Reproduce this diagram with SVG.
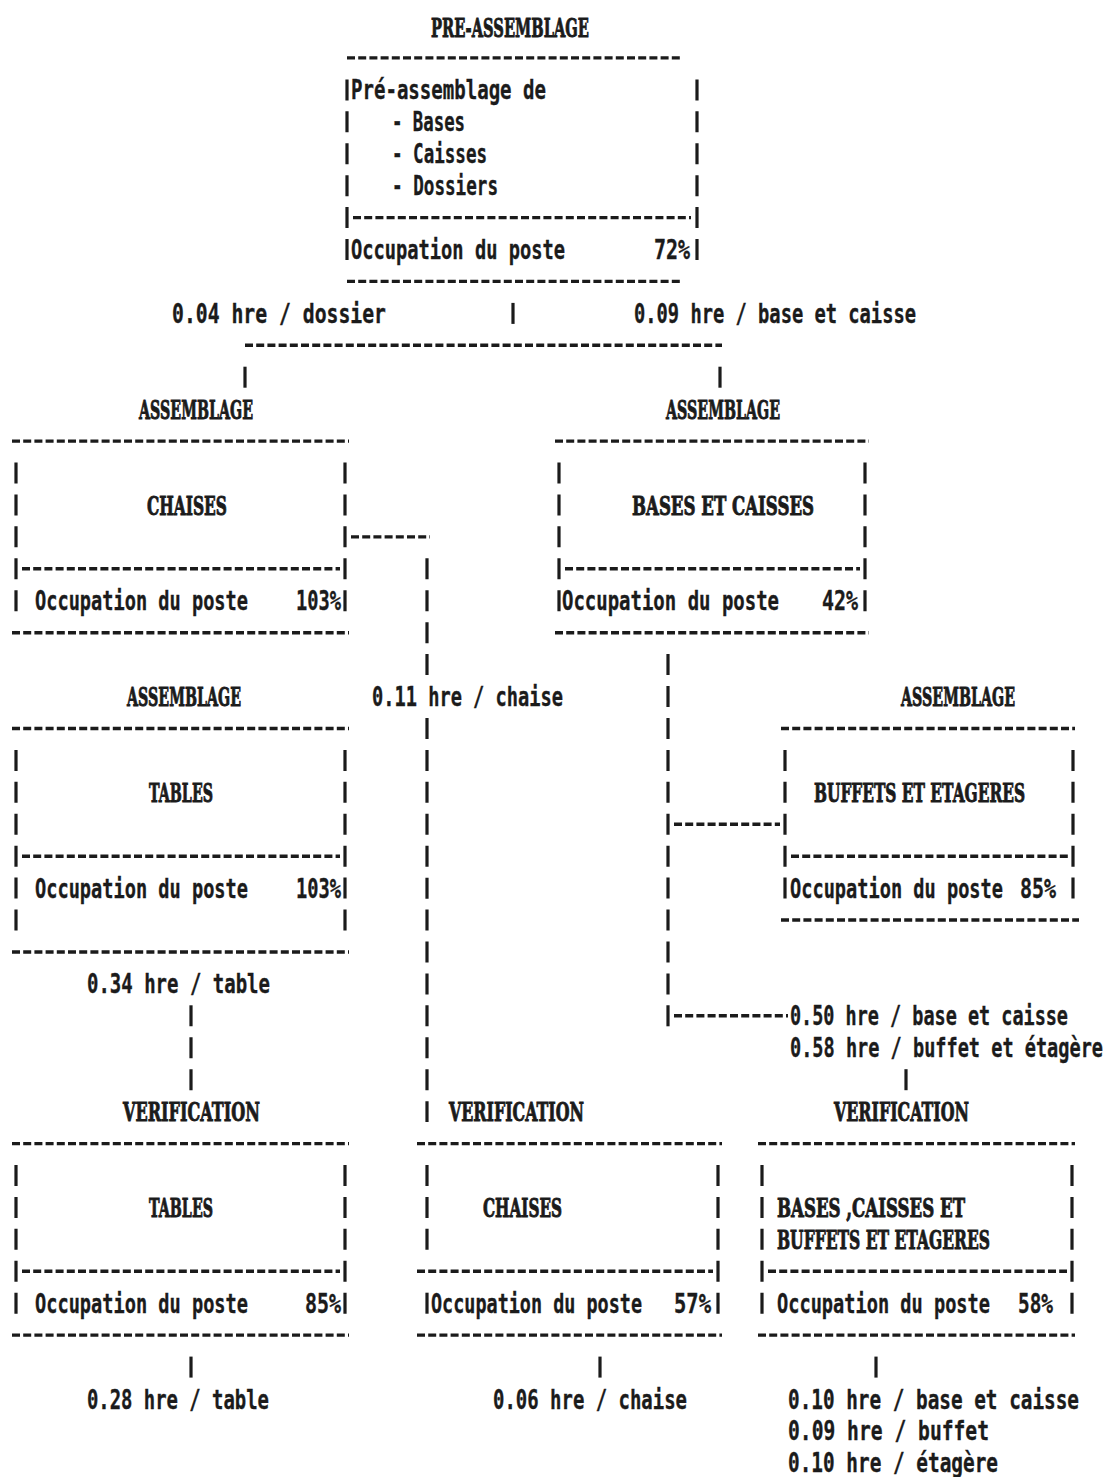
<svg xmlns="http://www.w3.org/2000/svg" width="1107" height="1477" viewBox="0 0 1107 1477" xml:space="preserve">
<style>
  .t{font-family:"DejaVu Sans Mono","Liberation Mono",monospace;font-weight:bold;font-size:18.6px;fill:#1b1b1b;stroke:#1b1b1b;stroke-width:0.25}
  .h{font-family:"DejaVu Serif","Liberation Serif",serif;font-weight:bold;font-size:15px;fill:#1b1b1b;stroke:#1b1b1b;stroke-width:0.55}
  .d{stroke:#1b1b1b;stroke-width:3.4;stroke-dasharray:8 3.2;fill:none}
  .b{stroke:#1b1b1b;stroke-width:3.2;stroke-dasharray:21 10.93;fill:none}
</style>
<rect width="1107" height="1477" fill="#fff"/>

<!-- Pre-assembly station -->
<g id="node-pre-assemblage">
  <text class="h" transform="translate(431,36.5) scale(1,1.75)" textLength="158" lengthAdjust="spacingAndGlyphs">PRE-ASSEMBLAGE</text>
  <line class="d" x1="347" y1="57.9" x2="683" y2="57.9"/>
  <line class="b" x1="347" y1="79.4" x2="347" y2="260"/>
  <line class="b" x1="697" y1="79.4" x2="697" y2="260"/>
  <text class="t" transform="translate(351,99.4) scale(1,1.4)" textLength="195" lengthAdjust="spacingAndGlyphs">Pré-assemblage de</text>
  <text class="t" transform="translate(392,131.3) scale(1,1.4)" textLength="73" lengthAdjust="spacingAndGlyphs">- Bases</text>
  <text class="t" transform="translate(392,163.2) scale(1,1.4)" textLength="95" lengthAdjust="spacingAndGlyphs">- Caisses</text>
  <text class="t" transform="translate(392,195.2) scale(1,1.4)" textLength="106" lengthAdjust="spacingAndGlyphs">- Dossiers</text>
  <line class="d" x1="353" y1="217.6" x2="691" y2="217.6"/>
  <text class="t" transform="translate(351,259) scale(1,1.4)" textLength="214" lengthAdjust="spacingAndGlyphs">Occupation du poste</text>
  <text class="t" transform="translate(654,259) scale(1,1.4)" textLength="36" lengthAdjust="spacingAndGlyphs">72%</text>
  <line class="d" x1="347" y1="281.4" x2="683" y2="281.4"/>
</g>

<!-- Assembly: chairs -->
<g id="node-assemblage-chaises">
  <text class="h" transform="translate(139,418.7) scale(1,1.75)" textLength="114" lengthAdjust="spacingAndGlyphs">ASSEMBLAGE</text>
  <line class="d" x1="12" y1="441.1" x2="349" y2="441.1"/>
  <line class="b" x1="16" y1="462.5" x2="16" y2="611.2"/>
  <line class="b" x1="345" y1="462.5" x2="345" y2="611.2"/>
  <text class="h" transform="translate(147,514.5) scale(1,1.75)" textLength="80" lengthAdjust="spacingAndGlyphs">CHAISES</text>
  <line class="d" x1="22" y1="568.8" x2="340" y2="568.8"/>
  <text class="t" transform="translate(35,610.2) scale(1,1.4)" textLength="213" lengthAdjust="spacingAndGlyphs">Occupation du poste</text>
  <text class="t" transform="translate(296,610.2) scale(1,1.4)" textLength="45" lengthAdjust="spacingAndGlyphs">103%</text>
  <line class="d" x1="12" y1="632.7" x2="349" y2="632.7"/>
</g>

<!-- Assembly: bases and cases -->
<g id="node-assemblage-bases">
  <text class="h" transform="translate(666,418.7) scale(1,1.75)" textLength="114" lengthAdjust="spacingAndGlyphs">ASSEMBLAGE</text>
  <line class="d" x1="555" y1="441.1" x2="869" y2="441.1"/>
  <line class="b" x1="559" y1="462.5" x2="559" y2="611.2"/>
  <line class="b" x1="865" y1="462.5" x2="865" y2="611.2"/>
  <text class="h" transform="translate(632,514.5) scale(1,1.75)" textLength="182" lengthAdjust="spacingAndGlyphs">BASES ET CAISSES</text>
  <line class="d" x1="565" y1="568.8" x2="860" y2="568.8"/>
  <text class="t" transform="translate(562,610.2) scale(1,1.4)" textLength="217" lengthAdjust="spacingAndGlyphs">Occupation du poste</text>
  <text class="t" transform="translate(822,610.2) scale(1,1.4)" textLength="36" lengthAdjust="spacingAndGlyphs">42%</text>
  <line class="d" x1="555" y1="632.7" x2="869" y2="632.7"/>
</g>

<!-- Assembly: tables -->
<g id="node-assemblage-tables">
  <text class="h" transform="translate(127,706) scale(1,1.75)" textLength="114" lengthAdjust="spacingAndGlyphs">ASSEMBLAGE</text>
  <line class="d" x1="12" y1="728.5" x2="349" y2="728.5"/>
  <line class="b" x1="16" y1="749.9" x2="16" y2="930.5"/>
  <line class="b" x1="345" y1="749.9" x2="345" y2="930.5"/>
  <text class="h" transform="translate(149,801.8) scale(1,1.75)" textLength="64" lengthAdjust="spacingAndGlyphs">TABLES</text>
  <line class="d" x1="22" y1="856.2" x2="340" y2="856.2"/>
  <text class="t" transform="translate(35,897.6) scale(1,1.4)" textLength="213" lengthAdjust="spacingAndGlyphs">Occupation du poste</text>
  <text class="t" transform="translate(296,897.6) scale(1,1.4)" textLength="45" lengthAdjust="spacingAndGlyphs">103%</text>
  <line class="d" x1="12" y1="952" x2="349" y2="952"/>
</g>

<!-- Assembly: sideboards and shelves -->
<g id="node-assemblage-buffets">
  <text class="h" transform="translate(901,706) scale(1,1.75)" textLength="114" lengthAdjust="spacingAndGlyphs">ASSEMBLAGE</text>
  <line class="d" x1="781" y1="728.5" x2="1075" y2="728.5"/>
  <line class="b" x1="785" y1="749.9" x2="785" y2="898.6"/>
  <line class="b" x1="1073" y1="749.9" x2="1073" y2="898.6"/>
  <text class="h" transform="translate(814,801.8) scale(1,1.75)" textLength="211" lengthAdjust="spacingAndGlyphs">BUFFETS ET ETAGERES</text>
  <line class="d" x1="791" y1="856.2" x2="1068" y2="856.2"/>
  <text class="t" transform="translate(790,897.6) scale(1,1.4)" textLength="213" lengthAdjust="spacingAndGlyphs">Occupation du poste</text>
  <text class="t" transform="translate(1020,897.6) scale(1,1.4)" textLength="36" lengthAdjust="spacingAndGlyphs">85%</text>
  <line class="d" x1="781" y1="920" x2="1079" y2="920"/>
</g>

<!-- Verification: tables -->
<g id="node-verification-tables">
  <text class="h" transform="translate(123,1121.1) scale(1,1.75)" textLength="137" lengthAdjust="spacingAndGlyphs">VERIFICATION</text>
  <line class="d" x1="12" y1="1143.6" x2="349" y2="1143.6"/>
  <line class="b" x1="16" y1="1165" x2="16" y2="1313.7"/>
  <line class="b" x1="345" y1="1165" x2="345" y2="1313.7"/>
  <text class="h" transform="translate(149,1216.9) scale(1,1.75)" textLength="64" lengthAdjust="spacingAndGlyphs">TABLES</text>
  <line class="d" x1="22" y1="1271.3" x2="340" y2="1271.3"/>
  <text class="t" transform="translate(35,1312.7) scale(1,1.4)" textLength="213" lengthAdjust="spacingAndGlyphs">Occupation du poste</text>
  <text class="t" transform="translate(305,1312.7) scale(1,1.4)" textLength="36" lengthAdjust="spacingAndGlyphs">85%</text>
  <line class="d" x1="12" y1="1335.1" x2="349" y2="1335.1"/>
</g>

<!-- Verification: chairs -->
<g id="node-verification-chaises">
  <text class="h" transform="translate(449,1121.1) scale(1,1.75)" textLength="135" lengthAdjust="spacingAndGlyphs">VERIFICATION</text>
  <line class="d" x1="417" y1="1143.6" x2="722" y2="1143.6"/>
  <line class="b" x1="427" y1="1165" x2="427" y2="1249.8"/>
  <line class="b" x1="427" y1="1292.7" x2="427" y2="1313.7"/>
  <line class="b" x1="718" y1="1165" x2="718" y2="1313.7"/>
  <text class="h" transform="translate(483,1216.9) scale(1,1.75)" textLength="79" lengthAdjust="spacingAndGlyphs">CHAISES</text>
  <line class="d" x1="417" y1="1271.3" x2="713" y2="1271.3"/>
  <text class="t" transform="translate(431,1312.7) scale(1,1.4)" textLength="211" lengthAdjust="spacingAndGlyphs">Occupation du poste</text>
  <text class="t" transform="translate(674,1312.7) scale(1,1.4)" textLength="37" lengthAdjust="spacingAndGlyphs">57%</text>
  <line class="d" x1="417" y1="1335.1" x2="722" y2="1335.1"/>
</g>

<!-- Verification: bases, cases, sideboards and shelves -->
<g id="node-verification-bases">
  <text class="h" transform="translate(834,1121.1) scale(1,1.75)" textLength="135" lengthAdjust="spacingAndGlyphs">VERIFICATION</text>
  <line class="d" x1="758" y1="1143.6" x2="1075" y2="1143.6"/>
  <line class="b" x1="762" y1="1165" x2="762" y2="1313.7"/>
  <line class="b" x1="1072" y1="1165" x2="1072" y2="1313.7"/>
  <text class="h" transform="translate(777,1216.9) scale(1,1.75)" textLength="188" lengthAdjust="spacingAndGlyphs">BASES ,CAISSES ET</text>
  <text class="h" transform="translate(777,1248.8) scale(1,1.75)" textLength="213" lengthAdjust="spacingAndGlyphs">BUFFETS ET ETAGERES</text>
  <line class="d" x1="768" y1="1271.3" x2="1067" y2="1271.3"/>
  <text class="t" transform="translate(777,1312.7) scale(1,1.4)" textLength="213" lengthAdjust="spacingAndGlyphs">Occupation du poste</text>
  <text class="t" transform="translate(1018,1312.7) scale(1,1.4)" textLength="35" lengthAdjust="spacingAndGlyphs">58%</text>
  <line class="d" x1="758" y1="1335.1" x2="1075" y2="1335.1"/>
</g>

<!-- Flow lines between stations, with their time labels -->
<g id="connectors">
  <text class="t" transform="translate(172,322.9) scale(1,1.4)" textLength="214" lengthAdjust="spacingAndGlyphs">0.04 hre / dossier</text>
  <line class="b" x1="513" y1="302.9" x2="513" y2="323.9"/>
  <text class="t" transform="translate(634,322.9) scale(1,1.4)" textLength="282" lengthAdjust="spacingAndGlyphs">0.09 hre / base et caisse</text>
  <line class="d" x1="245" y1="345.3" x2="722" y2="345.3"/>
  <line class="b" x1="245" y1="366.7" x2="245" y2="387.7"/>
  <line class="b" x1="720" y1="366.7" x2="720" y2="387.7"/>

  <line class="d" x1="351" y1="536.9" x2="430" y2="536.9"/>
  <line class="b" x1="427" y1="558.3" x2="427" y2="675.1"/>
  <text class="t" transform="translate(372,706) scale(1,1.4)" textLength="191" lengthAdjust="spacingAndGlyphs">0.11 hre / chaise</text>
  <line class="b" x1="427" y1="718" x2="427" y2="1122.1"/>

  <line class="b" x1="668" y1="654.1" x2="668" y2="1026.3"/>
  <line class="d" x1="674" y1="824.3" x2="780" y2="824.3"/>
  <line class="d" x1="674" y1="1015.8" x2="788" y2="1015.8"/>
  <text class="t" transform="translate(790,1025.3) scale(1,1.4)" textLength="278" lengthAdjust="spacingAndGlyphs">0.50 hre / base et caisse</text>
  <text class="t" transform="translate(790,1057.3) scale(1,1.4)" textLength="313" lengthAdjust="spacingAndGlyphs">0.58 hre / buffet et étagère</text>
  <line class="b" x1="906" y1="1069.2" x2="906" y2="1090.2"/>

  <text class="t" transform="translate(87,993.4) scale(1,1.4)" textLength="183" lengthAdjust="spacingAndGlyphs">0.34 hre / table</text>
  <line class="b" x1="191" y1="1005.3" x2="191" y2="1090.2"/>

  <line class="b" x1="191" y1="1356.6" x2="191" y2="1377.6"/>
  <line class="b" x1="600" y1="1356.6" x2="600" y2="1377.6"/>
  <line class="b" x1="876" y1="1356.6" x2="876" y2="1377.6"/>
  <text class="t" transform="translate(87,1408.5) scale(1,1.4)" textLength="182" lengthAdjust="spacingAndGlyphs">0.28 hre / table</text>
  <text class="t" transform="translate(493,1408.5) scale(1,1.4)" textLength="194" lengthAdjust="spacingAndGlyphs">0.06 hre / chaise</text>
  <text class="t" transform="translate(788,1408.5) scale(1,1.4)" textLength="291" lengthAdjust="spacingAndGlyphs">0.10  hre / base et caisse</text>
  <text class="t" transform="translate(788,1440.4) scale(1,1.4)" textLength="201" lengthAdjust="spacingAndGlyphs">0.09  hre / buffet</text>
  <text class="t" transform="translate(788,1472.4) scale(1,1.4)" textLength="210" lengthAdjust="spacingAndGlyphs">0.10  hre / étagère</text>
</g>
</svg>
